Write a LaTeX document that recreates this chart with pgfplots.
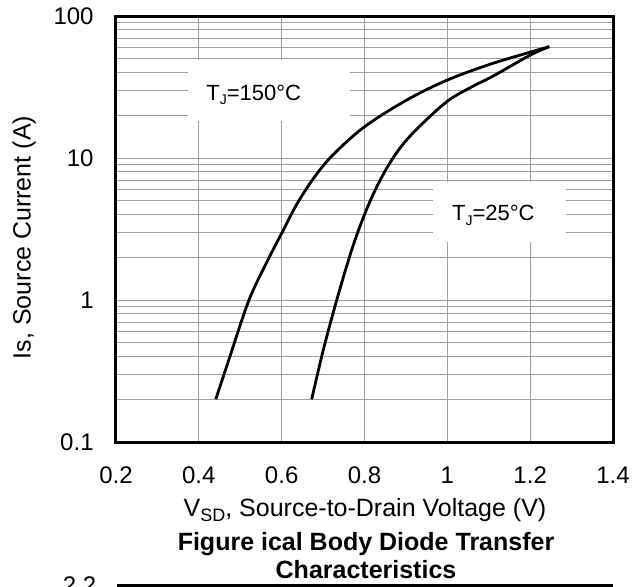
\documentclass[border=0pt]{standalone}
\usepackage{pgfplots}
\pgfplotsset{compat=1.18}
\usepackage{fontspec}
\setmainfont{Liberation Sans}
\pgfplotstableread{
V I
0.441 0.2
0.475 0.4
0.52 0.98
0.56 1.75
0.6 2.95
0.636 4.7
0.68 7.4
0.725 10.6
0.8 16.6
0.902 25.6
1.0 35.4
1.111 46.5
1.246 60.8
}\hot
\pgfplotstableread{
V I
0.6725 0.2
0.7005 0.445
0.733 1.0
0.769 2.25
0.8 4.0
0.83 6.3
0.86 9.1
0.89 12.2
0.93 16.4
1.0 25.1
1.06 31.8
1.111 37.8
1.2 53
1.246 60.8
}\cold
\begin{document}
\begin{tikzpicture}
\useasboundingbox (0pt,0pt) rectangle (321.5pt,293pt);
\clip (0pt,0pt) rectangle (321.5pt,293pt);
\begin{axis}[
  at={(58pt,72pt)}, anchor=south west,
  scale only axis, width=248.5pt, height=213pt,
  xmin=0.2, xmax=1.4, ymode=log, ymin=0.1, ymax=100,
  xtick={0.2,0.4,0.6,0.8,1.0,1.2,1.4},
  xticklabels={0.2,0.4,0.6,0.8,1,1.2,1.4},
  ytick={0.1,1,10,100},
  yticklabels={0.1\hspace{5pt},1,10,100},
  grid=both,
  major grid style={gray!75, line width=0.5pt},
  minor grid style={gray!75, line width=0.5pt},
  major tick length=0pt, minor tick length=0pt,
  axis line style={line width=1.5pt},
  xticklabel style={anchor=base, inner sep=0pt, yshift=-20.6pt, font=\fontsize{12}{14}\selectfont},
  yticklabel style={anchor=east, inner sep=0pt, xshift=-11pt, font=\fontsize{12}{14}\selectfont},
  xlabel={V\raisebox{-2.8pt}{\fontsize{9}{10}\selectfont SD}, Source-to-Drain Voltage (V)},
  ylabel={Is, Source Current (A)},
  xlabel style={at={(axis description cs:0.501,-0.1737)}, anchor=base, inner sep=0pt, font=\fontsize{12.5}{15}\selectfont},
  ylabel style={at={(axis description cs:-0.185,0.48)}, anchor=center, inner sep=0pt, font=\fontsize{12.5}{15}\selectfont},
]
\fill[white] (axis cs:0.3738,18.2) rectangle (axis cs:0.765,48.9);
\fill[white] (axis cs:0.9654,2.562) rectangle (axis cs:1.2865,6.78);
\node[anchor=base west, inner sep=0pt, font=\fontsize{11}{13}\selectfont] at (axis cs:0.4173,25.6) {T\raisebox{-2.4pt}{\fontsize{7}{8}\selectfont J}=150°C};
\node[anchor=base west, inner sep=0pt, font=\fontsize{11}{13}\selectfont] at (axis cs:1.0105,3.62) {T\raisebox{-2.4pt}{\fontsize{7}{8}\selectfont J}=25°C};
\addplot[black, line width=1.4pt, smooth, tension=0.55] table[x=V, y=I] {\hot};
\addplot[black, line width=1.4pt, smooth, tension=0.55] table[x=V, y=I] {\cold};
\end{axis}
\node[anchor=base, inner sep=0pt, font=\bfseries\fontsize{12.5}{15}\selectfont] at (183pt,18pt) {Figure ical Body Diode Transfer};
\node[anchor=base, inner sep=0pt, font=\bfseries\fontsize{12.5}{15}\selectfont] at (183pt,4pt) {Characteristics};
\draw[line width=1.5pt] (58.5pt,0.5pt) -- (306.5pt,0.5pt);
\node[anchor=north east, inner sep=0pt, font=\fontsize{12}{14}\selectfont] at (48.3pt,5pt) {2.2};
\end{tikzpicture}
\end{document}
